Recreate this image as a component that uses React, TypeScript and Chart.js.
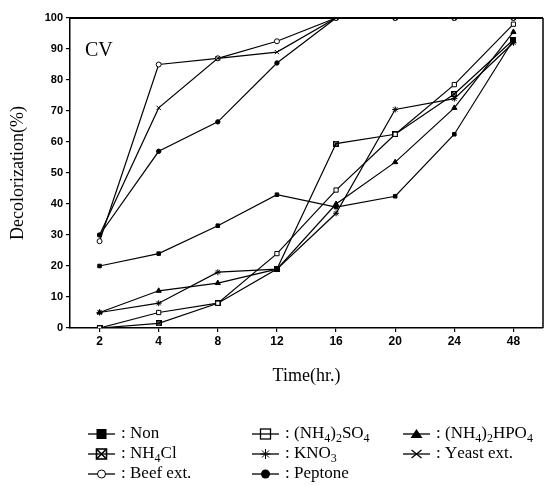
import { useEffect, useRef } from "react";
import { Chart, registerables } from "chart.js";

Chart.register(...registerables);

// ---- Data ----
const timeLabels = ["2", "4", "8", "12", "16", "20", "24", "48"];
const yTicks = [0, 10, 20, 30, 40, 50, 60, 70, 80, 90, 100];

const nonValues = [20, 24, 33, 43, 39, 42.5, 62.5, 93];
const sulfateValues = [0, 5, 8, 24, 44.5, 62.5, 78.5, 98];
const phosphateValues = [5, 12, 14.5, 19, 40, 53.5, 71, 95.5];
const chlorideValues = [0, 1.5, 8, 19, 59.5, 62.5, 75.5, 93];
const nitrateValues = [5, 8, 18, 19, 37, 70.5, 74, 92];
const yeastValues = [30, 71, 87, 89, 100, 100, 100, 100];
const beefValues = [28, 85, 87, 92.5, 100, 100, 100, 100];
const peptoneValues = [30, 57, 66.5, 85.5, 100, 100, 100, 100];

const seriesLabels = [
  "Non",
  "(NH₄)₂SO₄",
  "(NH₄)₂HPO₄",
  "NH₄Cl",
  "KNO₃",
  "Yeast ext.",
  "Beef ext.",
  "Peptone",
];
const seriesValues = [
  nonValues,
  sulfateValues,
  phosphateValues,
  chlorideValues,
  nitrateValues,
  yeastValues,
  beefValues,
  peptoneValues,
];

const SERIF = '"Liberation Serif", "DejaVu Serif", serif';
const SANS = '"Liberation Sans", Arial, sans-serif';

function makeBoxX(size: number, lw: number) {
  const c = document.createElement("canvas");
  c.width = size;
  c.height = size;
  const g = c.getContext("2d")!;
  g.strokeStyle = "#000";
  g.lineWidth = lw;
  const h = lw / 2;
  g.strokeRect(h, h, size - lw, size - lw);
  g.beginPath();
  g.moveTo(h, h);
  g.lineTo(size - h, size - h);
  g.moveTo(size - h, h);
  g.lineTo(h, size - h);
  g.stroke();
  return c;
}

type Marker = "sq" | "osq" | "tri" | "boxx" | "star" | "x" | "ocirc" | "circ";
const markerKinds: Marker[] = ["sq", "osq", "tri", "boxx", "star", "x", "ocirc", "circ"];

function drawLegendMarker(ctx: CanvasRenderingContext2D, kind: Marker, cx: number, cy: number) {
  ctx.save();
  ctx.strokeStyle = "#000";
  ctx.fillStyle = "#000";
  ctx.lineWidth = 1.3;
  const s = 5;
  switch (kind) {
    case "sq":
      ctx.fillRect(cx - s, cy - s, 2 * s, 2 * s);
      break;
    case "osq":
      ctx.fillStyle = "#fff";
      ctx.fillRect(cx - s, cy - s, 2 * s, 2 * s);
      ctx.strokeRect(cx - s, cy - s, 2 * s, 2 * s);
      ctx.beginPath();
      ctx.moveTo(cx - s, cy);
      ctx.lineTo(cx + s, cy);
      ctx.stroke();
      break;
    case "tri":
      ctx.beginPath();
      ctx.moveTo(cx, cy - s);
      ctx.lineTo(cx + s + 1, cy + s - 1);
      ctx.lineTo(cx - s - 1, cy + s - 1);
      ctx.closePath();
      ctx.fill();
      break;
    case "boxx":
      ctx.lineWidth = 1.6;
      ctx.strokeRect(cx - s, cy - s, 2 * s, 2 * s);
      ctx.beginPath();
      ctx.moveTo(cx - s, cy - s);
      ctx.lineTo(cx + s, cy + s);
      ctx.moveTo(cx + s, cy - s);
      ctx.lineTo(cx - s, cy + s);
      ctx.stroke();
      break;
    case "star":
      ctx.lineWidth = 1;
      ctx.beginPath();
      for (let k = 0; k < 4; k++) {
        const a = (k * Math.PI) / 4;
        ctx.moveTo(cx - Math.cos(a) * s, cy - Math.sin(a) * s);
        ctx.lineTo(cx + Math.cos(a) * s, cy + Math.sin(a) * s);
      }
      ctx.stroke();
      break;
    case "x":
      ctx.beginPath();
      ctx.moveTo(cx - s, cy - s + 1);
      ctx.lineTo(cx + s, cy + s - 1);
      ctx.moveTo(cx + s, cy - s + 1);
      ctx.lineTo(cx - s, cy + s - 1);
      ctx.stroke();
      break;
    case "ocirc":
      ctx.fillStyle = "#fff";
      ctx.lineWidth = 1;
      ctx.beginPath();
      ctx.arc(cx, cy, 4, 0, Math.PI * 2);
      ctx.fill();
      ctx.stroke();
      break;
    case "circ":
      ctx.beginPath();
      ctx.arc(cx, cy, 4.5, 0, Math.PI * 2);
      ctx.fill();
      break;
  }
  ctx.restore();
}

const SUBS = "₀₁₂₃₄₅₆₇₈₉";

function drawFormula(ctx: CanvasRenderingContext2D, text: string, x: number, y: number, size: number) {
  let cx = x;
  for (const ch of text) {
    const idx = SUBS.indexOf(ch);
    if (idx >= 0) {
      ctx.font = `${Math.round(size * 0.72)}px ${SERIF}`;
      const t = String(idx);
      ctx.fillText(t, cx, y + size * 0.28);
      cx += ctx.measureText(t).width;
    } else {
      ctx.font = `${size}px ${SERIF}`;
      ctx.fillText(ch, cx, y);
      cx += ctx.measureText(ch).width;
    }
  }
}

const decorPlugin = {
  id: "decor",
  afterDraw(chart: any) {
    const { ctx, chartArea } = chart;
    const { left, right, top, bottom } = chartArea;
    ctx.save();
    ctx.strokeStyle = "#000";
    ctx.lineWidth = 2;
    ctx.beginPath();
    ctx.moveTo(left, top);
    ctx.lineTo(right, top);
    ctx.stroke();
    ctx.lineWidth = 1.5;
    ctx.beginPath();
    ctx.moveTo(right, top);
    ctx.lineTo(right, bottom);
    ctx.stroke();

    // panel label
    ctx.fillStyle = "#000";
    ctx.textBaseline = "alphabetic";
    ctx.textAlign = "left";
    ctx.font = `20px ${SERIF}`;
    ctx.fillText("CV", left + 15, top + 38);

    // legend
    const colX = [88, 252, 403];
    const rowY = [434, 454, 474];
    const size = 17;
    chart.data.datasets.forEach((ds: any, i: number) => {
      const x0 = colX[i % 3];
      const y = rowY[Math.floor(i / 3)];
      ctx.strokeStyle = "#000";
      ctx.lineWidth = 1.3;
      ctx.beginPath();
      ctx.moveTo(x0, y);
      ctx.lineTo(x0 + 27, y);
      ctx.stroke();
      drawLegendMarker(ctx, markerKinds[i], x0 + 13.5, y);
      ctx.fillStyle = "#000";
      ctx.textBaseline = "middle";
      ctx.font = `${size}px ${SERIF}`;
      ctx.fillText(":", x0 + 33, y);
      drawFormula(ctx, ds.label, x0 + 42, y, size);
    });
    ctx.restore();
  },
};

export default function App() {
  const ref = useRef<HTMLCanvasElement>(null);

  useEffect(() => {
    document.body.style.margin = "0";
    const boxX = makeBoxX(6, 1.2);
    const pointStyles: any[] = ["rect", "rect", "triangle", boxX, "star", "crossRot", "circle", "circle"];
    const pointRadii = [2.5, 3, 3, 3, 3, 3, 2.5, 2.2];
    const pointFills = ["#000", "#fff", "#000", "#000", "#000", "#000", "#fff", "#000"];

    const datasets = seriesLabels.map((label, i) => ({
      label,
      data: seriesValues[i],
      borderColor: "#000",
      borderWidth: 1.2,
      backgroundColor: pointFills[i],
      pointStyle: pointStyles[i],
      pointRadius: pointRadii[i],
      pointBorderColor: "#000",
      pointBackgroundColor: pointFills[i],
      pointBorderWidth: 1,
      tension: 0,
      fill: false,
    }));

    const chart = new Chart(ref.current!, {
      type: "line",
      data: { labels: timeLabels, datasets },
      plugins: [decorPlugin],
      options: {
        animation: false,
        responsive: false,
        devicePixelRatio: 1,
        layout: { padding: { left: 0, top: 18, right: 1, bottom: 87 } },
        plugins: {
          legend: { display: false },
          tooltip: { enabled: false },
        },
        scales: {
          x: {
            type: "category",
            offset: true,
            afterFit: (s: any) => {
              s.height = 70;
            },
            grid: {
              offset: false,
              drawOnChartArea: false,
              drawTicks: true,
              tickLength: 4,
              color: "#000",
              lineWidth: 1.2,
            },
            border: { display: true, color: "#000", width: 1.5 },
            ticks: {
              color: "#000",
              padding: 2,
              maxRotation: 0,
              font: { family: SANS, size: 12, weight: "bold" },
            },
            title: {
              display: true,
              text: "Time(hr.)",
              color: "#000",
              font: { family: SERIF, size: 18 },
              padding: { top: 0, bottom: 11 },
            },
          },
          y: {
            min: 0,
            max: 100,
            afterFit: (s: any) => {
              s.width = 70;
            },
            afterBuildTicks: (s: any) => {
              s.ticks = yTicks.map((v) => ({ value: v }));
            },
            grid: {
              drawOnChartArea: false,
              drawTicks: true,
              tickLength: 4,
              color: "#000",
              lineWidth: 1.2,
            },
            border: { display: true, color: "#000", width: 1.5 },
            ticks: {
              color: "#000",
              padding: 3,
              font: { family: SANS, size: 11, weight: "bold" },
            },
            title: {
              display: true,
              text: "Decolorization(%)",
              color: "#000",
              font: { family: SERIF, size: 18 },
              padding: { top: 7, bottom: 0 },
            },
          },
        },
      },
    } as any);

    return () => chart.destroy();
  }, []);

  return (
    <div style={{ width: 548, height: 485, background: "#fff" }}>
      <canvas ref={ref} width={548} height={485} style={{ display: "block" }} />
    </div>
  );
}
